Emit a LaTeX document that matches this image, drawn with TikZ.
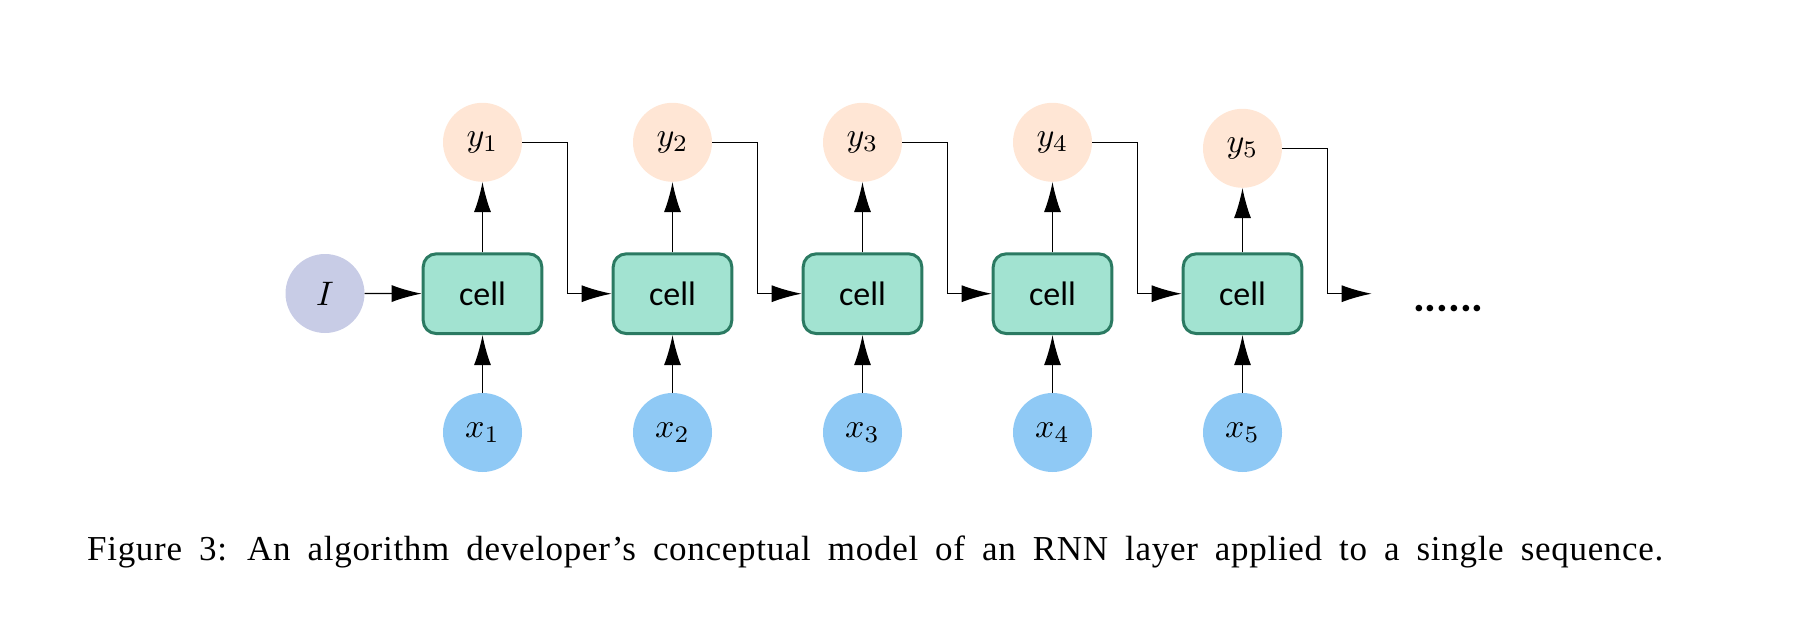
\documentclass[tikz,border=0pt]{standalone}
\usepackage{graphicx}
\usepackage{fontspec}
\setmainfont{Liberation Serif}
\newfontfamily\capfont[LetterSpace=2,WordSpace={1.8,1,1}]{Liberation Serif}
\newfontfamily\cellfont{Carlito}
\usetikzlibrary{arrows.meta,calc}
\definecolor{ycol}{HTML}{FFE6D5}
\definecolor{xcol}{HTML}{8FC9F5}
\definecolor{icol}{HTML}{C8CCE6}
\definecolor{cellfill}{HTML}{A2E3D1}
\definecolor{celldraw}{HTML}{2B7A62}
\newcommand{\bigmath}[1]{\scalebox{3.4}{$#1$}}
\tikzset{
  every picture/.style={x=1pt,y=-1pt},
  bubble/.style={circle,minimum size=79pt,inner sep=0pt},
  ybub/.style={bubble,fill=ycol},
  xbub/.style={bubble,fill=xcol},
  ibub/.style={bubble,fill=icol},
  cellbox/.style={draw=celldraw,fill=cellfill,line width=3pt,rounded corners=13pt,
    minimum width=118.6pt,minimum height=79.7pt,inner sep=0pt,
    font=\cellfont\fontsize{34}{40}\selectfont},
  conn/.style={line width=1.3pt,-{Latex[length=30pt,width=17pt]}},
}
\begin{document}
\begin{tikzpicture}
\useasboundingbox (0,0) rectangle (1805,629);
\node[ibub] (I) at (325,293.5) {\bigmath{I}};
\foreach \k in {1,...,5}{
  \pgfmathsetmacro{\cx}{482.5+190*(\k-1)}
  \node[cellbox] (c\k) at (\cx,293.7) {cell};
  \node[xbub] (x\k) at (\cx,432.5) {\bigmath{x_{\k}}};
  \coordinate (b\k) at (\cx+84.8,293.7);
}
\foreach \k in {1,...,4}{
  \pgfmathsetmacro{\cx}{482.5+190*(\k-1)}
  \node[ybub] (y\k) at (\cx,142.3) {\bigmath{y_{\k}}};
}
\node[ybub] (y5) at (1242.5,148.3) {\bigmath{y_{5}}};
\coordinate (end) at (1371.7,293.7);
\draw[conn] (I) -- (c1);
\foreach \k in {1,...,5}{
  \draw[conn] (c\k) -- (y\k);
  \draw[conn] (x\k) -- (c\k);
}
\foreach \k/\n in {1/2,2/3,3/4,4/5}{
  \draw[conn] (y\k.east) -| (b\k) -- (c\n.west);
}
\draw[conn] (y5.east) -| (b5) -- (end);
\node[anchor=base west,inner sep=0pt,font=\cellfont\bfseries\fontsize{44}{50}\selectfont] (dots) at (1413,311) {......};
\node[anchor=base west,inner sep=0pt,font=\capfont\fontsize{35}{40}\selectfont] (cap) at (87,560) {Figure 3: An algorithm developer’s conceptual model of an RNN layer applied to a single sequence.};
\end{tikzpicture}
\end{document}
